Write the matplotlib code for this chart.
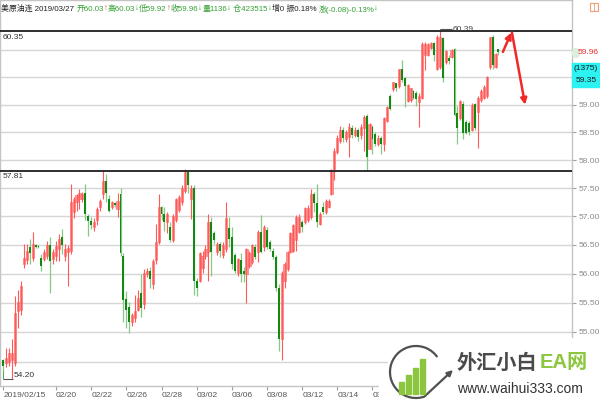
import numpy as np
import matplotlib
matplotlib.use('Agg')
import matplotlib.pyplot as plt
from matplotlib.patches import Rectangle, Arc, Ellipse
from matplotlib.ticker import NullLocator

plt.rcParams['font.family'] = ['Liberation Sans', 'Noto Sans CJK SC', 'DejaVu Sans']

# 4H candles, 2019/02/15 .. 2019/03/27
opens = [54.52, 54.47, 54.50, 54.53, 54.47, 55.35, 55.38, 56.17, 56.23, 56.46,
         56.28, 56.50, 56.48, 56.28, 56.25, 56.30, 56.50, 56.26, 56.30, 56.43,
         56.63, 56.31, 56.37, 56.40, 57.07, 57.25, 57.30, 57.30, 57.42, 57.00,
         56.92, 56.81, 56.93, 57.16, 57.40, 57.62, 57.30, 57.17, 57.23, 57.13,
         57.40, 56.31, 55.56, 55.42, 55.17, 55.23, 55.37, 55.67, 55.47, 56.00,
         56.05, 55.82, 56.23, 56.55, 57.16, 57.04, 56.90, 56.81, 56.58, 56.93,
         57.12, 57.25, 57.45, 57.78, 57.30, 57.50, 55.88, 55.88, 56.10, 56.30,
         56.37, 56.90, 56.70, 56.37, 56.52, 56.32, 56.42, 56.79, 56.64, 56.32,
         56.02, 56.23, 56.05, 55.99, 56.14, 56.20, 56.46, 56.37, 56.73, 56.46,
         56.76, 56.55, 56.40, 56.29, 55.76, 54.88, 55.88, 56.08, 56.37, 56.40,
         56.58, 56.73, 56.90, 56.90, 56.93, 56.99, 57.40, 57.23, 56.87, 57.17,
         57.08, 57.17, 57.40, 57.84, 58.14, 58.35, 58.55, 58.38, 58.42, 58.58,
         58.45, 58.55, 58.45, 58.57, 58.80, 58.20, 58.60, 58.46, 58.28, 58.40,
         58.28, 58.70, 59.16, 59.28, 59.39, 59.34, 59.66, 59.48, 59.07, 59.08,
         59.25, 59.22, 59.05, 59.13, 59.92, 59.92, 60.05, 60.13, 59.66, 59.70,
         60.22, 59.78, 59.86, 59.87, 60.02, 58.85, 58.75, 59.01, 58.69, 58.66,
         58.55, 59.01, 58.87, 59.08, 59.12, 59.16, 59.69, 60.25, 59.70, 60.03]
highs = [54.55, 54.73, 54.73, 54.88, 55.61, 55.71, 55.87, 56.52, 56.52, 56.60,
         56.72, 56.52, 56.50, 56.34, 56.43, 56.57, 56.63, 56.43, 56.57, 56.69,
         56.78, 56.52, 56.50, 57.57, 57.34, 57.40, 57.48, 57.43, 57.57, 57.05,
         56.99, 56.98, 57.16, 57.31, 57.83, 57.75, 57.37, 57.28, 57.26, 57.42,
         57.51, 56.35, 55.70, 55.52, 55.32, 55.64, 55.72, 55.99, 56.08, 56.10,
         56.11, 56.25, 56.87, 57.39, 57.19, 57.16, 57.08, 56.90, 57.05, 57.32,
         57.38, 57.55, 57.84, 57.82, 57.55, 57.56, 55.92, 56.38, 56.40, 56.50,
         57.05, 56.99, 56.74, 56.55, 56.55, 56.55, 57.26, 56.99, 56.82, 56.35,
         56.28, 56.35, 56.11, 56.45, 56.40, 56.52, 56.52, 56.76, 57.02, 56.84,
         56.82, 56.58, 56.45, 56.32, 55.82, 56.05, 56.20, 56.40, 56.73, 56.87,
         57.02, 57.05, 56.93, 57.17, 57.20, 57.49, 57.43, 57.58, 57.08, 57.26,
         57.31, 57.30, 57.84, 58.22, 58.45, 58.62, 58.60, 58.55, 58.66, 58.63,
         58.60, 58.58, 58.65, 58.81, 58.83, 58.66, 58.63, 58.50, 58.45, 58.43,
         58.77, 58.98, 59.19, 59.42, 59.40, 59.66, 59.83, 59.51, 59.37, 59.31,
         59.27, 59.25, 59.22, 60.16, 60.16, 60.14, 60.16, 60.16, 60.28, 60.39,
         60.25, 60.00, 59.92, 60.02, 60.04, 58.98, 59.09, 59.07, 58.72, 58.70,
         59.04, 59.03, 59.16, 59.28, 59.36, 59.52, 60.25, 60.28, 59.95, 60.03]
lows = [54.35, 54.41, 54.42, 54.20, 54.42, 55.06, 55.29, 56.10, 56.16, 56.16,
        56.22, 56.45, 56.45, 56.05, 56.22, 56.26, 55.67, 56.17, 56.22, 56.22,
        56.34, 56.22, 55.79, 56.34, 56.98, 57.10, 57.13, 57.25, 56.93, 56.66,
        56.78, 56.75, 56.84, 57.10, 57.30, 57.25, 57.07, 57.13, 57.17, 56.99,
        56.30, 55.17, 55.06, 54.99, 55.11, 55.17, 55.35, 55.26, 55.40, 55.95,
        55.76, 55.73, 56.16, 56.52, 56.93, 56.75, 56.70, 56.55, 56.55, 56.90,
        57.08, 57.20, 57.42, 57.42, 56.96, 55.64, 55.62, 55.85, 56.02, 56.25,
        55.88, 55.96, 56.52, 56.33, 56.29, 56.28, 56.38, 56.46, 56.08, 56.02,
        55.96, 55.85, 55.85, 55.49, 56.10, 56.17, 56.26, 56.20, 56.35, 56.40,
        56.43, 56.40, 56.25, 55.70, 54.67, 54.53, 55.76, 56.05, 56.35, 56.38,
        56.40, 56.70, 56.73, 56.87, 56.90, 56.96, 57.08, 56.82, 56.84, 57.05,
        57.05, 57.14, 57.37, 57.64, 58.10, 58.30, 58.33, 58.32, 58.05, 58.40,
        58.42, 58.35, 58.38, 58.16, 57.80, 58.19, 58.10, 58.25, 58.25, 58.10,
        58.16, 58.68, 58.90, 59.25, 59.25, 59.30, 59.42, 58.96, 59.05, 59.05,
        59.10, 58.98, 58.60, 59.10, 59.63, 59.90, 60.03, 59.80, 59.63, 59.66,
        59.42, 59.75, 59.75, 59.85, 58.80, 58.28, 58.72, 58.37, 58.46, 58.45,
        58.52, 58.54, 58.22, 59.05, 59.10, 59.12, 59.65, 59.66, 59.68, 59.92]
closes = [54.42, 54.56, 54.64, 54.64, 55.32, 55.52, 55.79, 56.27, 56.40, 56.36,
          56.52, 56.47, 56.47, 56.14, 56.38, 56.49, 56.22, 56.37, 56.48, 56.60,
          56.49, 56.43, 56.44, 57.25, 57.30, 57.37, 57.42, 57.40, 57.04, 56.92,
          56.84, 56.90, 57.13, 57.28, 57.63, 57.42, 57.10, 57.25, 57.20, 57.28,
          56.35, 55.55, 55.38, 55.17, 55.29, 55.35, 55.58, 55.41, 56.02, 56.05,
          55.90, 56.22, 56.55, 57.16, 57.04, 56.90, 57.04, 56.58, 57.01, 57.30,
          57.34, 57.50, 57.78, 57.55, 57.50, 55.87, 55.76, 56.35, 56.30, 56.42,
          56.90, 56.37, 56.58, 56.52, 56.40, 56.50, 56.98, 56.61, 56.17, 56.05,
          56.26, 55.99, 55.99, 56.43, 56.35, 56.49, 56.29, 56.73, 56.37, 56.82,
          56.46, 56.43, 56.29, 55.76, 54.88, 56.02, 56.17, 56.37, 56.70, 56.84,
          56.99, 56.99, 56.82, 57.14, 57.14, 57.40, 57.23, 56.90, 57.05, 57.08,
          57.28, 57.28, 57.81, 58.17, 58.40, 58.55, 58.40, 58.50, 58.60, 58.45,
          58.55, 58.42, 58.60, 58.78, 58.05, 58.65, 58.37, 58.28, 58.40, 58.28,
          58.75, 58.95, 58.93, 59.42, 59.30, 59.66, 59.45, 59.35, 59.36, 59.30,
          59.13, 59.10, 59.16, 60.12, 60.12, 60.12, 60.14, 59.92, 60.25, 60.25,
          59.48, 59.98, 59.81, 60.00, 58.81, 58.57, 59.07, 58.49, 58.49, 58.51,
          59.00, 58.57, 59.13, 59.25, 59.33, 59.50, 60.25, 59.72, 59.93, 59.96]

date_ticks = [0, 18, 30, 42, 54, 66, 78, 90, 102, 114, 126]
date_labels = ['2019/02/15', '02/20', '02/22', '02/26', '02/28', '03/02',
               '03/06', '03/08', '03/12', '03/14', '03/18']
grid_levels = [54.5, 55.0, 55.5, 56.0, 56.5, 57.0, 57.5, 58.0, 58.5, 59.0, 59.5, 60.0]
right_ticks = [55.0, 55.5, 56.0, 56.5, 57.0, 57.5, 58.0, 58.5, 59.0]
support_levels = [60.35, 57.81]
peak_idx, peak_val = 149, 60.39
low_idx, low_val = 3, 54.20
# hand-drawn arrows: (x index, price)
arrow_up = [(170.5, 59.97), (173.4, 60.33)]
arrow_down = [(173.6, 60.33), (178.1, 59.0)]

o = np.array(opens); h = np.array(highs); l = np.array(lows); c = np.array(closes)
x = np.arange(len(o))
up = c >= o
dn = ~up

fig = plt.figure(figsize=(6, 4), dpi=100)
ax = fig.add_axes([0, 14 / 400, 572 / 600, 386 / 400])
ax.set_yscale('log')
ax.set_ylim(54.09, 60.94)
ax.set_xlim(-1.13, 194.1)

for g in grid_levels:
    ax.axhline(g, color='#d6d6d6', lw=1.0, zorder=0)

# down candles: light wick, dark body
ax.vlines(x[dn], l[dn], h[dn], color='#86c886', lw=0.9, zorder=2)
ax.bar(x[dn], np.maximum(o[dn] - c[dn], 0.012), bottom=c[dn], width=0.66,
       color='#108a10', lw=0, zorder=3)
# up candles: pink body, red wick through
ax.bar(x[up], np.maximum(c[up] - o[up], 0.012), bottom=o[up], width=0.74,
       color='#ff9090', edgecolor='#ff6060', lw=0.4, zorder=2)
ax.vlines(x[up], l[up], h[up], color='#ff5a5a', lw=0.8, zorder=3)

for lv in support_levels:
    ax.axhline(lv, color='#1e1e1e', lw=1.3, zorder=4)
    ax.annotate(f'{lv:.2f}', xy=(0.004, lv), xycoords=('axes fraction', 'data'),
                xytext=(0, -2), textcoords='offset points', va='top', ha='left',
                fontsize=6, color='#333333', zorder=5)

ax.hlines(peak_val, peak_idx, peak_idx + 4, color='#555555', lw=0.8, zorder=5)
ax.text(peak_idx + 4.2, peak_val, f'{peak_val:.2f}', fontsize=6, color='#444444',
        va='center', ha='left', zorder=5)

ax.vlines(0, low_val, l[0], color='#5aa85a', lw=0.8, zorder=5)
ax.hlines(low_val, 0, low_idx + 0.2, color='#555555', lw=0.8, zorder=5)
ax.text(low_idx + 0.6, low_val + 0.06, f'{low_val:.2f}', fontsize=6, color='#333333',
        va='center', ha='left', zorder=5)

for (p0, p1) in [arrow_up, arrow_down]:
    ax.annotate('', xy=p1, xytext=p0,
                arrowprops=dict(arrowstyle='-|>', color='#f02828', lw=1.8,
                                mutation_scale=9, shrinkA=0, shrinkB=0), zorder=6)

ax.yaxis.tick_right()
ax.yaxis.set_minor_locator(NullLocator())
ax.set_yticks(right_ticks)
ax.set_yticklabels([f'{t:.2f}' for t in right_ticks])
ax.tick_params(axis='y', length=3, width=0.8, color='#a0a0a0', labelcolor='#8a8a8a',
               labelsize=6, pad=1.5)
ax.set_xticks(date_ticks)
ax.set_xticklabels(date_labels, ha='left')
ax.tick_params(axis='x', length=3, width=0.8, color='#a0a0a0', labelcolor='#555555',
               labelsize=6, pad=1)
for s in ax.spines.values():
    s.set_color('#c4c4c4')
    s.set_linewidth(1.0)

# overlay in pixel coordinates
ov = fig.add_axes([0, 0, 1, 1], zorder=10)
ov.set_xlim(0, 600)
ov.set_ylim(400, 0)
ov.axis('off')
ov.patch.set_alpha(0)

green = '#35a035'
red = '#e04040'
parts = [('美原油连 2019/03/27 ', '#222222'), ('开60.03', green), ('↑', red),
         ('高60.03', green), ('↓', green), ('低59.92', green), ('↑', red),
         ('收59.96', green), ('↓', green), ('量1136', green), ('↓', green),
         (' 仓423515', green), ('↓', green), ('增0 振0.18% ', '#222222'),
         ('涨(-0.08)-0.13%', green), ('↓', green)]
r = fig.canvas.get_renderer()
px = 1
for s, col in parts:
    t = ov.text(px, 9, s, color=col, fontsize=5.7, va='center', ha='left')
    px += t.get_window_extent(renderer=r).width

# top-right icon
ov.add_patch(Rectangle((590, 3), 8, 8, fill=False, edgecolor='#f0a070', lw=0.8))
ov.plot([594, 594], [3, 11], color='#f0a070', lw=0.6)

# last price + cursor box on the right
ov.add_patch(Ellipse((576, 53), 7, 9, color='#dcefdc'))
ov.text(578, 53, '59.96', color='#e83030', fontsize=6, va='center', ha='left')
ov.add_patch(Rectangle((572, 63), 28, 24, color='#2cf2f2'))
ov.text(586, 69, '(1375)', color='#1a1a1a', fontsize=6, va='center', ha='center')
ov.text(586, 81, '59.35', color='#1a1a1a', fontsize=6, va='center', ha='center')

# watermark
ov.add_patch(Rectangle((388, 338), 212, 62, color='white', zorder=1))
ov.add_patch(Rectangle((379, 366), 12, 34, color='white', zorder=1))
ov.add_patch(Arc((416, 372), 52, 52, theta1=70, theta2=325, color='#505050', lw=1.6, zorder=2))
ov.annotate('', xy=(453, 370), xytext=(425, 396),
            arrowprops=dict(arrowstyle='-|>', color='#505050', lw=1.6,
                            mutation_scale=8, shrinkA=0, shrinkB=0), zorder=2)
for bx, top in [(399, 382), (406, 375), (413, 368), (420, 359)]:
    ov.add_patch(Rectangle((bx, top), 5, 394 - top, color='#8cc63f', zorder=2))
t1 = ov.text(457, 363, '外汇小白', color='#4a4a4a', fontsize=14.5, fontweight='bold',
             va='center', ha='left', zorder=3)
ex = 457 + t1.get_window_extent(renderer=r).width + 2
ov.text(ex, 363, 'EA网', color='#8cc63f', fontsize=14.5, fontweight='bold',
        va='center', ha='left', zorder=3)
ov.text(457, 389, 'www.waihui333.com', color='#333333', fontsize=10,
        va='center', ha='left', zorder=3)

fig.savefig('out.png', dpi=100)
